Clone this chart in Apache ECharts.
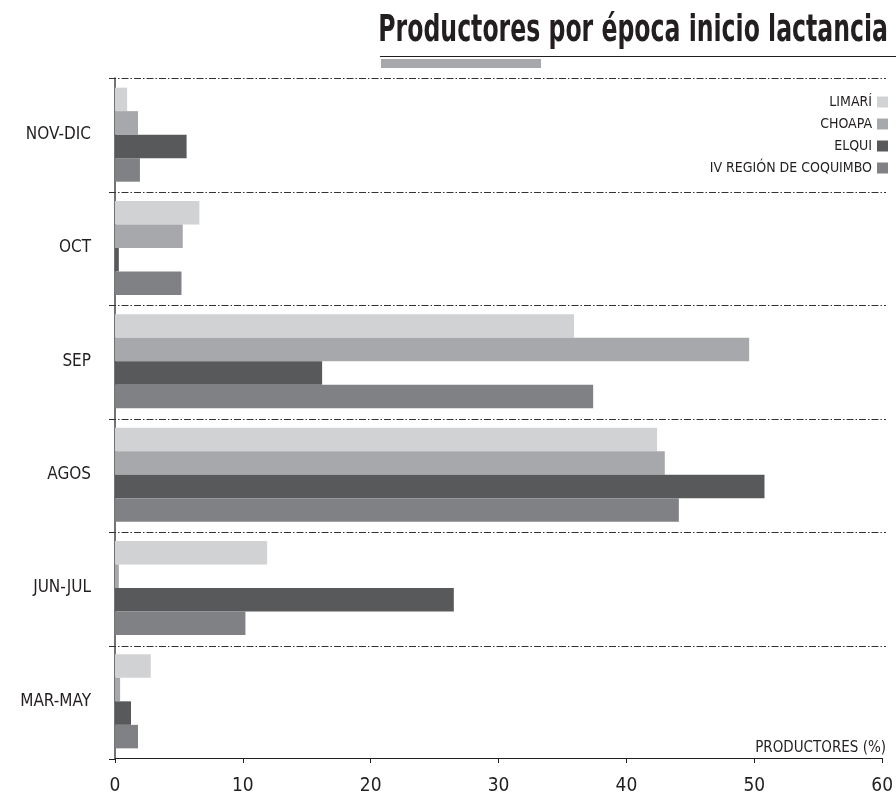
<!DOCTYPE html>
<html>
<head>
<meta charset="utf-8">
<script src="https://cdn.jsdelivr.net/npm/echarts@6/dist/echarts.min.js"></script>
<style>
html,body{margin:0;padding:0;background:#fff;}
#chart{width:896px;height:796px;}
</style>
</head>
<body>
<div id="chart"></div>
<script>
const categories = ['NOV-DIC', 'OCT', 'SEP', 'AGOS', 'JUN-JUL', 'MAR-MAY'];
const seriesNames = ['LIMARÍ', 'CHOAPA', 'ELQUI', 'IV REGIÓN DE COQUIMBO'];
const limari = [0.95, 6.6, 35.9, 42.4, 11.9, 2.8];
const choapa = [1.8, 5.3, 49.6, 43.0, 0.3, 0.4];
const elqui = [5.6, 0.3, 16.2, 50.8, 26.5, 1.25];
const coquimbo = [1.95, 5.2, 37.4, 44.1, 10.2, 1.8];
const xTicks = [0, 10, 20, 30, 40, 50, 60];

const colors = ['#d1d2d4', '#a7a8ab', '#58595b', '#808184'];
const FONT = '"Liberation Sans Narrow", "DejaVu Sans Condensed", "Roboto", sans-serif';

const gridTop = 78, gridBottom = 37, gridLeft = 115, gridRight = 13;
const H = 796, W = 896;
const plotH = H - gridTop - gridBottom;
const band = plotH / categories.length;

const chart = echarts.init(document.getElementById('chart'), null, {renderer: 'canvas'});

const sepLines = [];
for (let i = 0; i < categories.length; i++) {
  const y = Math.round(gridTop + i * band) + 0.5;
  sepLines.push({
    type: 'line', silent: true, z: 1,
    shape: {x1: 109, y1: y, x2: 886, y2: y},
    style: {stroke: '#333', lineWidth: 1, lineDash: [7, 2, 1.5, 2]}
  });
}

const dataSets = [limari, choapa, elqui, coquimbo];

const option = {
  animation: false,
  backgroundColor: '#fff',
  grid: {top: gridTop, bottom: gridBottom, left: gridLeft, right: gridRight, containLabel: false},
  legend: {
    orient: 'vertical', right: 3, top: 90, align: 'right',
    itemWidth: 11, itemHeight: 11, itemGap: 8, icon: 'rect',
    textStyle: {fontFamily: FONT, fontSize: 14, color: '#231f20', lineHeight: 14},
    data: seriesNames
  },
  xAxis: {
    type: 'value', min: 0, max: 60, interval: 10,
    axisLine: {show: true, lineStyle: {color: '#231f20', width: 1}},
    axisTick: {show: true, length: 5, lineStyle: {color: '#231f20'}},
    axisLabel: {fontFamily: FONT, fontSize: 19, color: '#231f20', margin: 19,
      formatter: v => String(xTicks[xTicks.indexOf(v)])},
    splitLine: {show: false}
  },
  yAxis: {
    type: 'category', data: categories, inverse: true,
    axisLine: {show: true, lineStyle: {color: '#444', width: 1.5}},
    axisTick: {show: false},
    axisLabel: {fontFamily: FONT, fontSize: 17, color: '#231f20', margin: 24, padding: [6, 0, 0, 0]},
    splitLine: {show: false}
  },
  series: seriesNames.map((n, i) => ({
    name: n, type: 'bar', data: dataSets[i],
    barGap: '0%', barCategoryGap: '17%',
    itemStyle: {color: colors[i]}, z: 2
  })),
  graphic: [
    ...sepLines,
    {type: 'text', x: 888, y: 50, scaleX: 0.69, z: 5,
      style: {text: 'Productores por época inicio lactancia', fill: '#231f20',
        font: 'bold 38px ' + FONT, textAlign: 'right', verticalAlign: 'bottom'}},
    {type: 'line', shape: {x1: 380, y1: 56.5, x2: 896, y2: 56.5}, style: {stroke: '#231f20', lineWidth: 1}},
    {type: 'rect', shape: {x: 381, y: 59, width: 160, height: 9}, style: {fill: '#a7a8ab'}},
    {type: 'text', x: 886, y: 741, z: 5,
      style: {text: 'PRODUCTORES (%)', fill: '#231f20', font: '15px ' + FONT, textAlign: 'right', verticalAlign: 'top'}},
    {type: 'line', shape: {x1: 109, y1: 759.5, x2: 115, y2: 759.5}, style: {stroke: '#231f20', lineWidth: 1}}
  ]
};
chart.setOption(option);
</script>
</body>
</html>
